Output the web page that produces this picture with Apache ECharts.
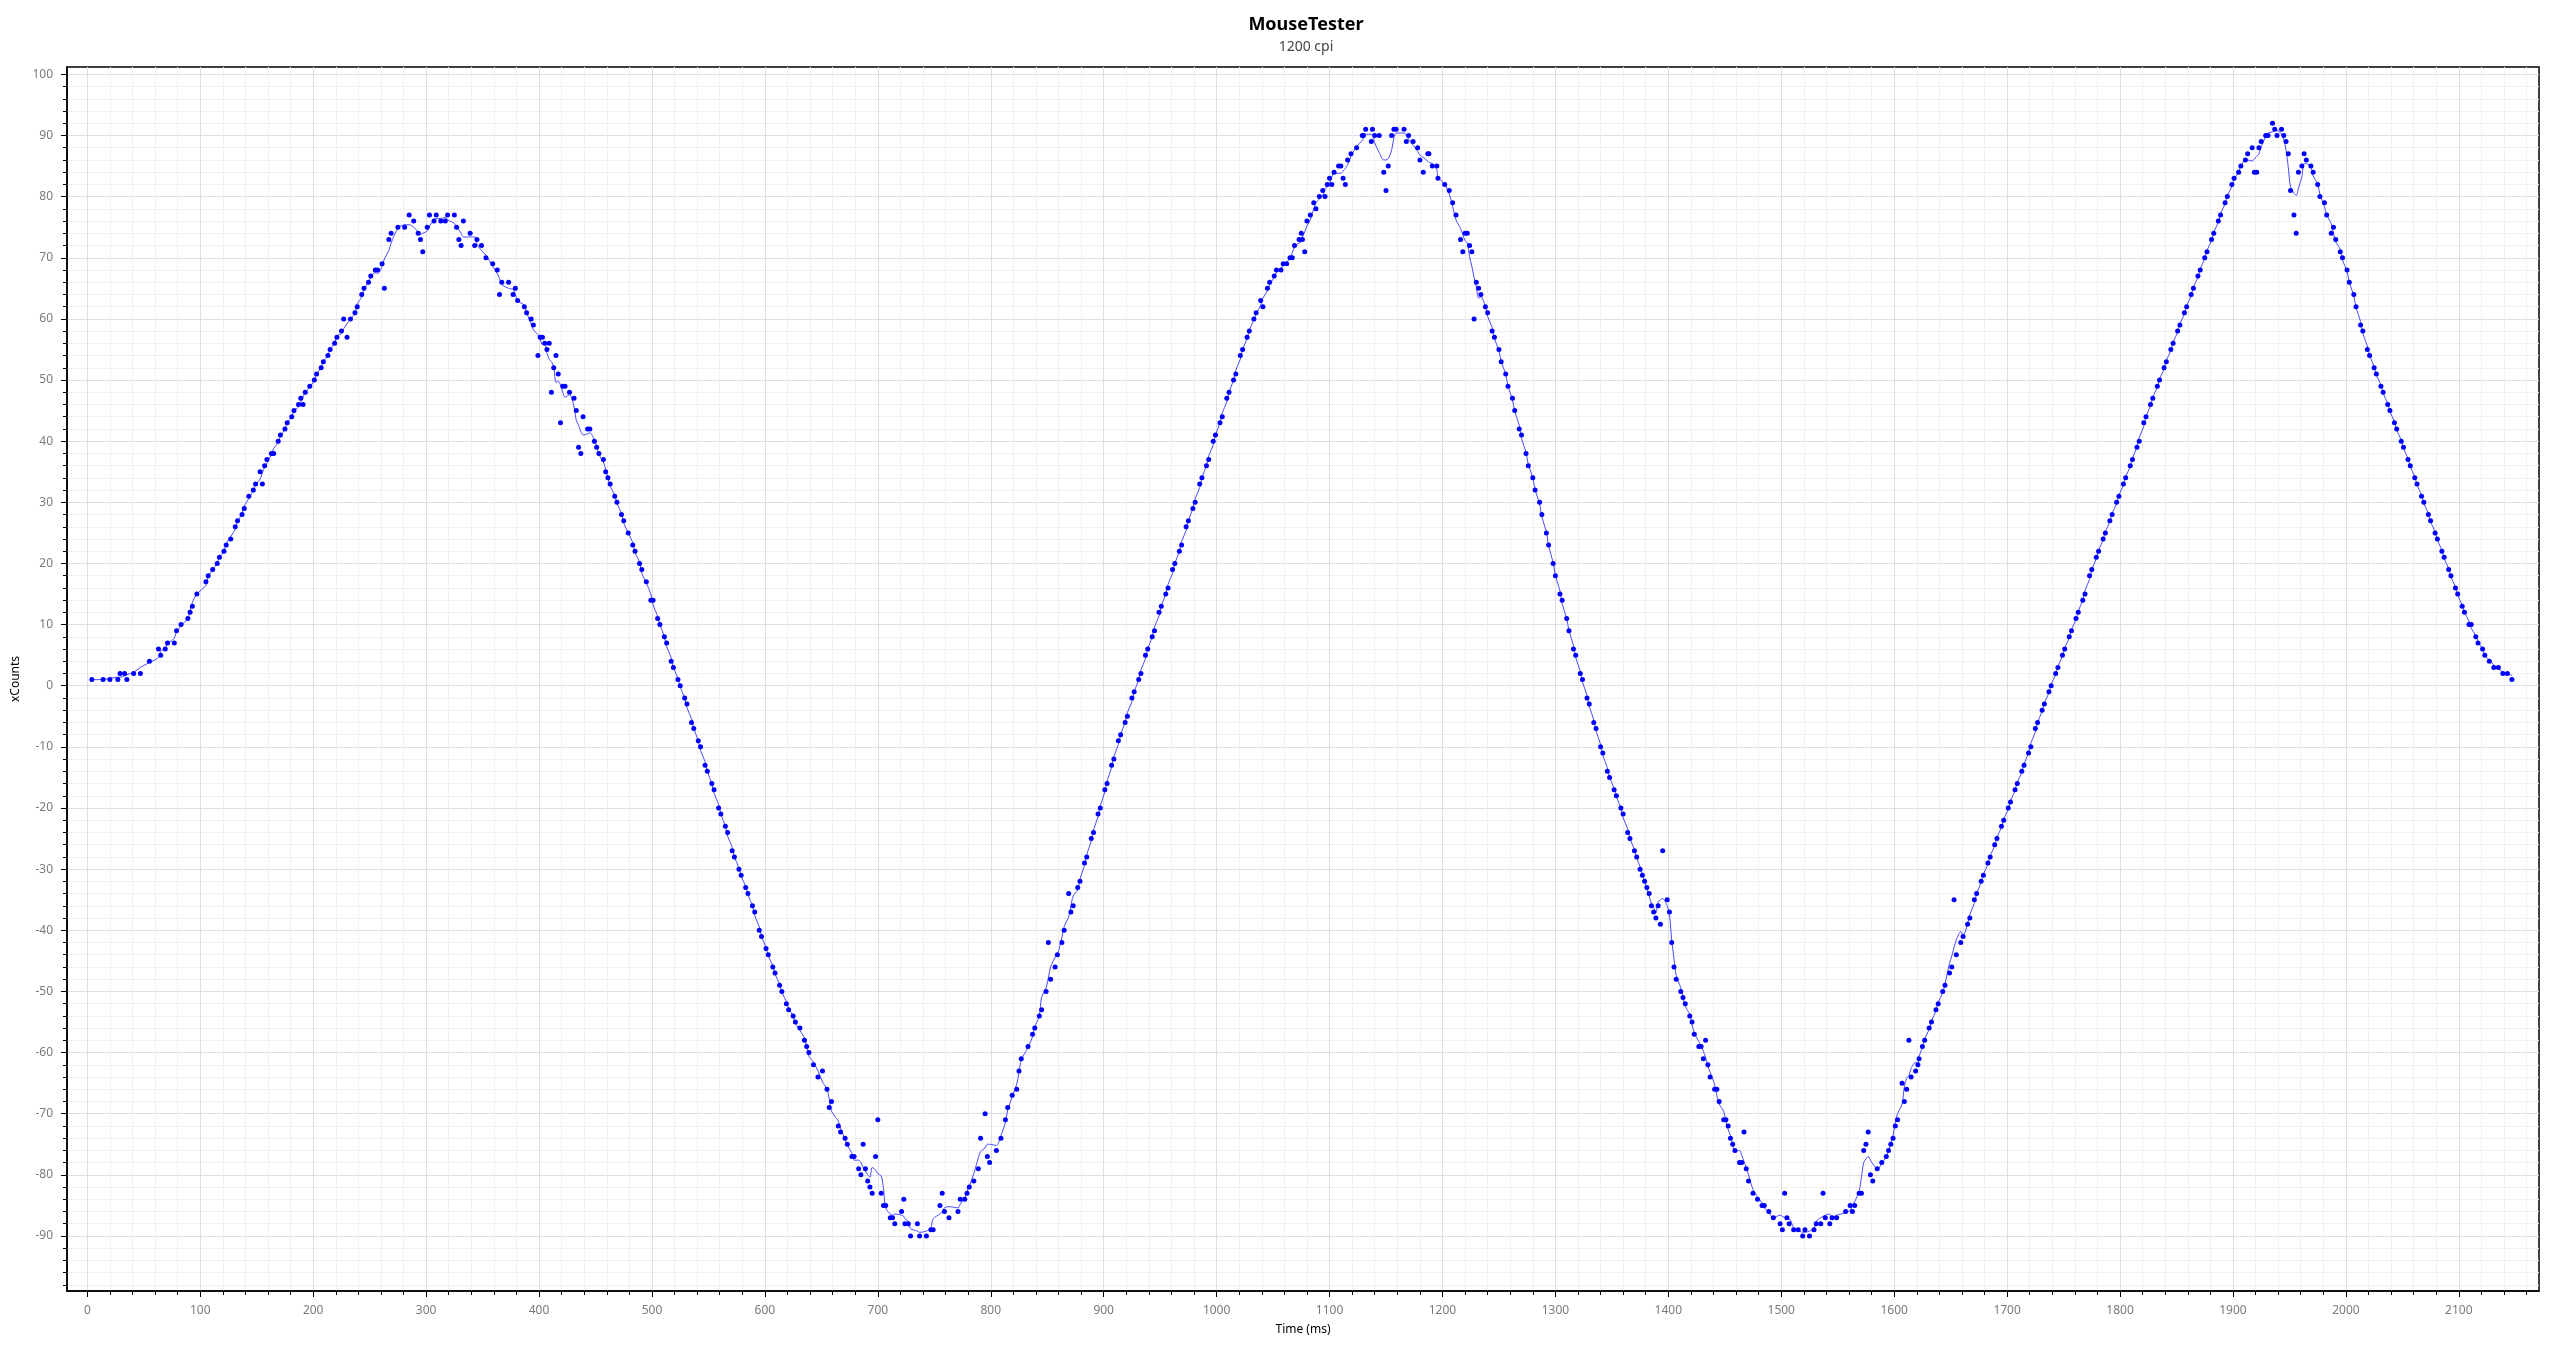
<!DOCTYPE html>
<html>
<head>
<meta charset="utf-8">
<script src="https://cdn.jsdelivr.net/npm/echarts@6/dist/echarts.min.js"></script>
<style>
html,body{margin:0;padding:0;background:#fff;}
#chart{width:2560px;height:1352px;}
</style>
</head>
<body>
<div id="chart"></div>
<script>
// ---- data: [time (ms), xCounts] ----
const rise1 = [[4,1],[14,1],[20,1],[27,1],[29,2],[33,2],[35,1],[41,2],[47,2],[55,4],[63,6],[65,5],[69,6],[71,7],[77,7],[79,9],[83,10],[89,11],[91,12],[93,13],[97,15],[105,17],[107,18],[111,19],
[115,20],[117,21],[121,22],[123,23],[127,24],[131,26],[133,27],[137,28],[139,29],[143,31],[147,32],[149,33],[153,35],[155,33],[157,36],[159,37],[163,38],[165,38],[169,40],[171,41],[175,42],[177,43],[181,44],[183,45],[187,46],[189,47],[191,46],[193,48],[197,49],[201,50],[203,51],[207,52],[209,53],[213,54],[215,55],[219,56],[221,57],[225,58],[227,60],[230,57],[233,60],[237,61],[239,62],[243,64],[245,65],[249,66],[251,67],[255,68],[257,68]];
const peak1 = [[261,69],[263,65],[267,73],[269,74],[275,75],[281,75],[285,77],[289,76],[293,74],[295,73],[297,71],[301,75],[303,77],[307,76],[309,77],[313,76],[317,76],[319,77],[325,77],[327,75],[329,73],[331,72],[333,76],[339,74],[343,72],[345,73],[349,72],[353,70],[359,69],[363,68],[365,64],[367,66],[373,66],[377,64],[379,65],[381,63],[387,62],[389,61],[393,60],[395,59],[399,54],[401,57],[403,57],[405,56],[407,55],[409,56],[411,48],[413,52],[415,54],[417,51],[419,43],[421,49],[423,49],[427,48],[431,47],[433,45],[435,39],[437,38],[439,44],[443,42],[445,42],[449,40],[451,39],[453,38],[457,37],[459,35]];
const fall1 = [[461,34],[463,33],[467,31],[469,30],[473,28],[475,27],[479,25],[483,23],[485,22],[489,20],[491,19],[495,17],[499,14],[501,14],[505,11],[507,10],[511,8],[513,7],[517,4],[519,3],[523,1],[525,0],[529,-2],[531,-3],[535,-6],[537,-7],[541,-9],[543,-10],[547,-13],[549,-14],[553,-16],[555,-17],[559,-20],[561,-21],[565,-23],[567,-24],[571,-27],[573,-28],[577,-30],[579,-31],[583,-33],[585,-34],[589,-36],[591,-37],[595,-40],[597,-41],[601,-43],[603,-44],[607,-46],[609,-47],[613,-49],[615,-50],[619,-52],[621,-53],[625,-54],[627,-55]];
const trough1 = [[631,-56],[635,-58],[637,-59],[639,-60],[643,-62],[647,-64],[651,-63],[655,-66],[657,-69],[659,-68],[665,-72],[667,-73],[671,-74],[673,-75],[677,-77],[679,-77],[683,-79],[685,-80],[687,-75],[689,-79],[691,-81],[693,-82],[695,-83],[698,-77],[700,-71],[703,-83],[705,-85],[707,-85],[711,-87],[713,-87],[715,-88],[721,-86],[723,-84],[724,-88],[727,-88],[729,-90],[735,-88],[737,-90],[743,-90],[747,-89],[749,-89],[755,-85],[757,-83],[759,-86],[763,-87],[771,-86],[773,-84],[777,-84],[779,-83],[781,-82],[785,-81],[789,-79],[791,-74],[795,-70],[797,-77],[799,-78],[805,-76],[809,-74],[813,-71],[815,-69],[819,-67],[823,-66],[825,-63],[827,-61],[833,-59]];
const rise2 = [[837,-57],[839,-56],[843,-54],[845,-53],[849,-50],[851,-42],[853,-48],[857,-46],[859,-44],[863,-42],[865,-40],[869,-34],[871,-37],[873,-36],[877,-33],[879,-32],[883,-29],[885,-28],[889,-25],[891,-24],[895,-21],[897,-20],[901,-17],[903,-16],[907,-13],[909,-12],[913,-9],[915,-8],[919,-6],[921,-5],[925,-2],[927,-1],[931,1],[933,2],[937,5],[939,6],[943,8],[945,9],[949,12],[951,13],[955,15],[957,16],[961,19],[963,20],[967,22],[969,23],[973,26],[975,27],[979,29],[981,30],[985,33],[987,34],[991,36],[993,37],[997,40],[999,41],[1003,43],[1005,44],[1009,47],[1011,48],[1015,50],[1017,51],[1021,54],[1023,55],[1027,57],[1029,58],[1033,60],[1035,61],[1039,63],[1041,62],[1045,65],[1047,66],[1051,67],[1053,68],[1057,68],[1059,69],[1062,69]];
const peak2 = [[1065,70],[1067,70],[1069,72],[1073,73],[1075,74],[1076,73],[1078,71],[1080,76],[1083,77],[1086,79],[1088,78],[1091,80],[1094,81],[1096,80],[1098,82],[1100,83],[1102,82],[1104,84],[1108,85],[1110,85],[1112,83],[1114,82],[1116,86],[1119,87],[1124,88],[1129,90],[1130,90],[1132,91],[1137,89],[1138,91],[1140,90],[1144,90],[1148,84],[1150,81],[1152,85],[1155,90],[1157,91],[1159,91],[1166,91],[1168,89],[1170,90],[1174,89],[1178,88],[1180,86],[1183,84],[1187,87],[1188,87],[1191,85],[1195,85],[1196,83],[1202,82],[1206,81],[1209,79],[1212,77],[1216,73],[1218,71],[1220,74],[1222,74],[1224,72],[1226,71],[1228,60],[1230,66]];
const fall2 = [[1232,65],[1234,64],[1238,62],[1240,61],[1244,58],[1246,57],[1250,55],[1252,53],[1256,51],[1258,49],[1262,47],[1264,45],[1268,42],[1270,41],[1274,38],[1276,36],[1280,34],[1282,32],[1286,30],[1288,28],[1292,25],[1294,23],[1298,20],[1300,18],[1304,15],[1306,14],[1310,11],[1312,9],[1316,6],[1318,5],[1322,2],[1324,1],[1328,-2],[1330,-3],[1334,-6],[1336,-7],[1340,-10],[1342,-11],[1346,-14],[1348,-15],[1352,-17],[1354,-18],[1358,-20],[1360,-21],[1364,-24],[1366,-25],[1370,-27],[1372,-28]];
const trough2 = [[1375,-30],[1377,-31],[1379,-32],[1381,-33],[1383,-34],[1385,-36],[1387,-37],[1389,-38],[1391,-36],[1393,-39],[1395,-27],[1399,-35],[1401,-37],[1403,-42],[1405,-46],[1407,-48],[1411,-50],[1413,-51],[1415,-52],[1419,-54],[1421,-55],[1423,-57],[1427,-59],[1429,-59],[1431,-61],[1433,-58],[1435,-62],[1437,-64],[1441,-66],[1443,-66],[1445,-68],[1449,-71],[1451,-71],[1453,-72],[1455,-74],[1457,-75],[1459,-76],[1463,-78],[1465,-78],[1467,-73],[1469,-79],[1471,-81],[1475,-83],[1479,-84],[1483,-85],[1485,-85],[1489,-86],[1493,-87],[1499,-88],[1501,-89],[1503,-83],[1505,-87],[1507,-88],[1511,-89],[1515,-89],[1519,-90],[1521,-89],[1525,-90],[1529,-89],[1531,-88],[1535,-88],[1537,-83],[1539,-87],[1543,-88],[1545,-87],[1549,-87],[1557,-86],[1561,-85],[1563,-86],[1565,-85],[1569,-83],[1571,-83],[1573,-76],[1575,-75],[1577,-73],[1579,-80],[1581,-81],[1585,-79],[1589,-78],[1593,-77],[1595,-76],[1597,-75],[1599,-74],[1601,-72],[1603,-71],[1607,-65],[1609,-68],[1611,-66],[1613,-58],[1615,-64],[1619,-63],[1621,-62],[1622,-61]];
const rise3 = [[1625,-59],[1627,-58],[1631,-56],[1633,-55],[1637,-53],[1639,-52],[1643,-50],[1645,-49],[1649,-47],[1651,-46],[1653,-35],[1655,-44],[1659,-42],[1661,-41],[1665,-39],[1667,-38],[1671,-35],[1673,-34],[1677,-32],[1679,-31],[1683,-29],[1685,-28],[1689,-26],[1691,-25],[1695,-23],[1697,-22],[1701,-20],[1703,-19],[1707,-17],[1709,-16],[1713,-14],[1715,-13],[1719,-11],[1721,-10],[1725,-7],[1727,-6],[1731,-4],[1733,-3],[1737,-1],[1739,0],[1743,2],[1745,3],[1749,5],[1751,6],[1755,8],[1757,9],[1761,11],[1763,12],[1767,14],[1769,15],[1773,18],[1775,19],[1779,21],[1781,22],[1785,24],[1787,25],[1791,27],[1793,28],[1797,30],[1799,31],[1803,33],[1805,34],[1809,36],[1811,37],[1815,39],[1817,40],[1821,43],[1823,44],[1827,46],[1829,47],[1833,49],[1835,50],[1839,52],[1841,53],[1845,55],[1847,56],[1851,58],[1853,59],[1857,61],[1859,62],[1863,64],[1865,65],[1869,67],[1871,68],[1875,70],[1877,71],[1881,73],[1883,74],[1887,76],[1889,77],[1893,79],[1895,80],[1899,82],[1901,83],[1905,84],[1907,85],[1911,86],[1913,87],[1917,88],[1919,84],[1921,84],[1923,88],[1925,89]];
const peak3 = [[1929,90],[1931,90],[1935,92],[1937,91],[1939,90],[1943,91],[1945,90],[1947,89],[1949,87],[1951,81],[1954,77],[1956,74],[1958,84],[1961,85],[1963,87],[1965,86],[1969,85],[1971,84],[1975,82],[1977,80],[1981,79],[1983,77],[1987,74],[1989,75],[1991,73],[1995,71],[1997,70],[2001,68],[2003,66],[2007,64],[2009,62],[2013,59],[2015,58],[2019,55],[2021,54],[2025,52],[2027,51],[2031,49],[2033,48],[2037,46],[2039,45],[2043,43],[2045,42],[2049,40],[2051,39],[2055,37],[2057,36],[2061,34],[2063,33],[2067,31],[2069,30],[2073,28],[2075,27],[2079,25],[2081,24],[2085,22],[2087,21],[2091,19],[2093,18],[2097,16],[2099,15],[2103,13],[2105,12],[2109,10],[2111,10],[2115,8],[2117,7],[2121,6],[2123,5],[2127,4],[2131,3],[2135,3],[2139,2],[2143,2],[2147,1]];

const xTickLabels = [0,100,200,300,400,500,600,700,800,900,1000,1100,1200,1300,1400,1500,1600,1700,1800,1900,2000,2100];
const yTickLabels = [-90,-80,-70,-60,-50,-40,-30,-20,-10,0,10,20,30,40,50,60,70,80,90,100];

const titleText = 'MouseTester';
const subtitleText = '1200 cpi';
const xName = 'Time (ms)';
const yName = 'xCounts';

// ---- build ----
const points = [].concat(rise1, peak1, fall1, trough1, rise2, peak2, fall2, trough2, rise3, peak3)
  .sort((a, b) => a[0] - b[0]);
// interpolated trend line: centred running mean of the plotted samples
const half = 2;
const trend = points.map((p, i) => {
  let s = 0, n = 0;
  for (let k = Math.max(0, i - half); k <= Math.min(points.length - 1, i + half); k++) { s += points[k][1]; n++; }
  return [p[0], s / n];
});

const FONT = '"Noto Sans", "Open Sans", sans-serif';
const chart = echarts.init(document.getElementById('chart'), null, {renderer: 'canvas'});
const axisCommon = {
  type: 'value',
  axisLine: {show: true, onZero: false, lineStyle: {color: '#000', width: 1.5}},
  axisTick: {show: true, inside: false, length: 6, lineStyle: {color: '#000', width: 1}},
  minorTick: {show: true, splitNumber: 5, length: 4, lineStyle: {color: '#000', width: 1}},
  splitLine: {show: true, lineStyle: {color: '#dedee8', width: 1}},
  minorSplitLine: {show: true, lineStyle: {color: '#f0f0f4', width: 1}},
  nameTextStyle: {color: '#000', fontSize: 12, fontFamily: FONT}
};
const plainNum = v => String(v);
chart.setOption({
  animation: false,
  backgroundColor: '#fff',
  title: {
    text: titleText, subtext: subtitleText,
    left: 1301, top: 11, textAlign: 'center', itemGap: 6,
    textStyle: {fontSize: 18, fontWeight: 'bold', color: '#000', fontFamily: FONT},
    subtextStyle: {fontSize: 14, color: '#444', fontFamily: FONT}
  },
  grid: {left: 67, right: 21, top: 67, bottom: 61, show: true, borderColor: '#000', borderWidth: 1.5, backgroundColor: 'transparent'},
  xAxis: Object.assign({}, axisCommon, {
    min: -18, max: 2171, minInterval: 100, maxInterval: 100,
    axisTick: Object.assign({}, axisCommon.axisTick, {customValues: xTickLabels}),
    axisLabel: {customValues: xTickLabels, formatter: plainNum, margin: 14, color: '#7a7a7a', fontSize: 12, fontFamily: FONT},
    name: xName, nameLocation: 'middle', nameGap: 33
  }),
  yAxis: Object.assign({}, axisCommon, {
    min: -99, max: 101.2, minInterval: 10, maxInterval: 10,
    axisTick: Object.assign({}, axisCommon.axisTick, {customValues: yTickLabels}),
    axisLabel: {customValues: yTickLabels, formatter: plainNum, margin: 14, color: '#7a7a7a', fontSize: 12, fontFamily: FONT},
    name: yName, nameLocation: 'middle', nameGap: 37, nameRotate: 90
  }),
  series: [
    {type: 'line', data: trend, showSymbol: false, symbol: 'none', smooth: 0.3,
     lineStyle: {color: '#4a4aff', width: 1}, z: 2, silent: true},
    {type: 'scatter', data: points, symbol: 'circle', symbolSize: 5,
     itemStyle: {color: '#0000ff', opacity: 1}, z: 3, silent: true}
  ]
});
</script>
</body>
</html>
